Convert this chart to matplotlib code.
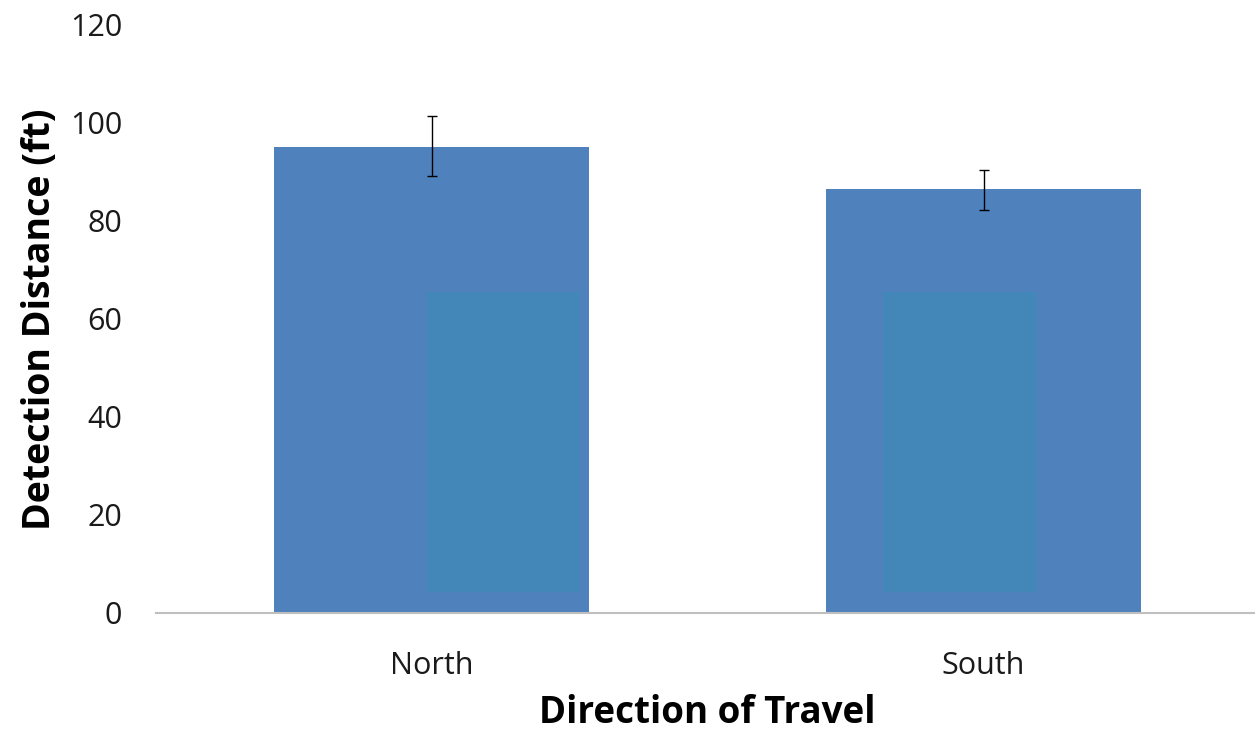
import matplotlib
matplotlib.use("Agg")
import matplotlib.pyplot as plt
import numpy as np

# data
directions = ["North", "South"]
distance = [95.1, 86.5]
err_low = [89.2, 82.3]
err_high = [101.4, 90.4]
# faint lighter block inside each bar (seen in the reference)
inner_bottom = [4.3, 4.3]
inner_top = [65.6, 65.6]
yticks = [0, 20, 40, 60, 80, 100, 120]

bar_color = "#4F81BD"
inner_color = "#4386B8"

plt.rcParams['font.family'] = ['Open Sans', 'DejaVu Sans']

fig = plt.figure(figsize=(12.55, 7.38), dpi=100)
ax = fig.add_axes([155.5 / 1255, 1 - 613 / 738, 1104 / 1255, (613 - 25) / 738])

x = np.arange(len(directions))
dist = np.array(distance)
yerr = [dist - np.array(err_low), np.array(err_high) - dist]

ax.bar(x, dist, width=0.57, color=bar_color, zorder=2)
# inner blocks, offsets as in the picture
ax.bar(x + np.array([0.13, -0.043]), np.array(inner_top) - np.array(inner_bottom),
       bottom=inner_bottom, width=0.277, color=inner_color, zorder=3)
ax.errorbar(x, dist, yerr=yerr, fmt="none", ecolor="black", elinewidth=1,
            capsize=3.6, capthick=1, zorder=4)

ax.set_xlim(-0.5, 1.5)
ax.set_ylim(0, 120)
ax.set_yticks(yticks)
ax.set_xticks(x)
ax.set_xticklabels(directions)
ax.tick_params(axis="both", length=0, labelsize=22, colors="#1a1a1a")
ax.tick_params(axis="y", pad=24)
ax.tick_params(axis="x", pad=27)

for s in ["top", "right", "left"]:
    ax.spines[s].set_visible(False)
ax.spines["bottom"].set_color("#BFBFBF")
ax.spines["bottom"].set_linewidth(1.5)

ax.set_xlabel("Direction of Travel", fontsize=26.5, fontweight="bold", labelpad=10)
ax.set_ylabel("Detection Distance (ft)", fontsize=27, fontweight="bold", labelpad=8)

fig.savefig("out.png", dpi=100)
